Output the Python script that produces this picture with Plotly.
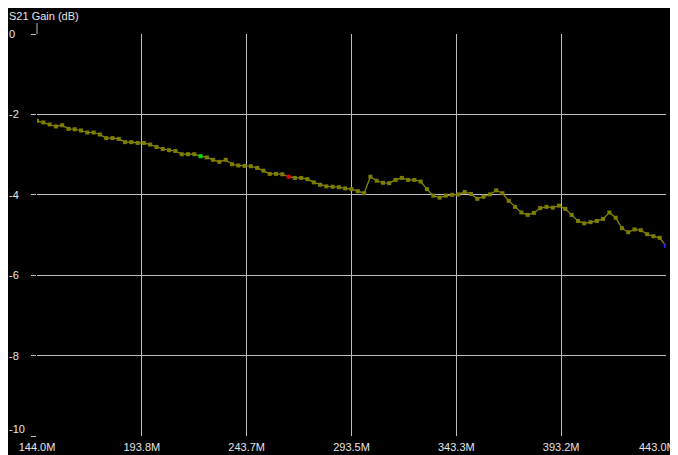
import numpy as np
import plotly.graph_objects as go

# Sweep definition (MHz)
start_mhz = 144.0
stop_mhz = 443.0
n_points = 101
freq_mhz = np.linspace(start_mhz, stop_mhz, n_points)

# S21 gain values (dB)
s21_db = [
    -2.16, -2.20, -2.25, -2.30, -2.27, -2.36, -2.37, -2.40, -2.45, -2.45,
    -2.50, -2.59, -2.59, -2.61, -2.69, -2.69, -2.71, -2.71, -2.75, -2.81,
    -2.86, -2.89, -2.91, -2.99, -2.99, -2.99, -3.04, -3.07, -3.13, -3.18,
    -3.13, -3.24, -3.27, -3.28, -3.29, -3.33, -3.40, -3.48, -3.48, -3.49,
    -3.55, -3.58, -3.58, -3.61, -3.69, -3.75, -3.79, -3.80, -3.81, -3.84,
    -3.86, -3.91, -3.96, -3.55, -3.65, -3.70, -3.71, -3.63, -3.58, -3.63,
    -3.63, -3.67, -3.86, -4.02, -4.07, -4.02, -4.00, -3.99, -3.93, -3.98,
    -4.10, -4.05, -3.99, -3.89, -3.96, -4.15, -4.30, -4.44, -4.50, -4.45,
    -4.33, -4.30, -4.32, -4.27, -4.35, -4.50, -4.65, -4.71, -4.68, -4.65,
    -4.60, -4.44, -4.57, -4.83, -4.93, -4.86, -4.88, -4.98, -5.03, -5.07,
    -5.27,
]

# Highlighted marker indices
green_idx = 26
red_idx = 40
blue_idx = 100

# Tick definitions
x_tickvals = list(np.linspace(start_mhz, stop_mhz, 7))
x_ticktext = ["144.0M", "193.8M", "243.7M", "293.5M", "343.3M", "393.2M", "443.0M"]
y_tickvals = [0, -2, -4, -6, -8, -10]
y_ticktext = ["0", "-2", "-4", "-6", "-8", "-10"]

FONT = "Liberation Sans, Arial, sans-serif"
TEXT_COLOR = "#e6e6e6"
GRID = "#bdbdbd"

marker_colors = ["#7d7d00"] * n_points
marker_colors[green_idx] = "#00e000"
marker_colors[red_idx] = "#e00000"
marker_colors[blue_idx] = "#2020ff"

fig = go.Figure()
fig.add_trace(go.Scatter(
    x=freq_mhz, y=s21_db, mode="lines+markers",
    line=dict(color="#8c8c00", width=1.2),
    marker=dict(symbol="square", size=4, color=marker_colors, line=dict(width=0)),
    showlegend=False, hoverinfo="skip",
))

# page body has an 8px margin, so the figure is sized to fit the window
fig.update_layout(
    width=670, height=447,
    margin=dict(l=29, r=12, t=26, b=19, autoexpand=False),
    paper_bgcolor="black", plot_bgcolor="black",
    font=dict(family=FONT, size=11, color=TEXT_COLOR),
    showlegend=False,
)
# last x label is drawn separately, right-aligned to the edge so it is not cut
axis_ticktext = x_ticktext[:-1] + [""]
fig.update_xaxes(
    range=[start_mhz, stop_mhz], tickvals=x_tickvals, ticktext=axis_ticktext,
    showgrid=True, gridcolor=GRID, gridwidth=1, zeroline=False,
    showline=False, ticks="", tickfont=dict(family=FONT, size=11, color=TEXT_COLOR),
    ticklabelstandoff=3, automargin=False, ticklabeloverflow="allow",
)
fig.update_yaxes(
    range=[-10, 0], tickvals=y_tickvals, showticklabels=False,
    showgrid=True, gridcolor=GRID, gridwidth=1, zeroline=False,
    showline=False, ticks="outside", ticklen=5, tickcolor=GRID, tickwidth=1,
    automargin=False,
)

fig.add_annotation(
    x=1, xref="paper", y=0, yref="paper", text=x_ticktext[-1], showarrow=False,
    xanchor="right", yanchor="middle", xshift=12, yshift=-11,
    font=dict(family=FONT, size=11, color=TEXT_COLOR),
)

# y tick labels, left aligned
for v, t in zip(y_tickvals, y_ticktext):
    fig.add_annotation(
        x=0, xref="paper", y=v, yref="y", text=t, showarrow=False,
        xanchor="left", yanchor="middle", xshift=-30,
        yshift=7 if v == -10 else 0,
        font=dict(family=FONT, size=11, color=TEXT_COLOR),
    )

# left axis extension above the plot
fig.add_shape(type="line", xref="paper", yref="paper", x0=0, x1=0, y0=1, y1=1.027,
              line=dict(color=GRID, width=1))

# chart title
fig.add_annotation(
    x=0, xref="paper", y=1, yref="paper", text="S21 Gain (dB)", showarrow=False,
    xanchor="left", yanchor="bottom", xshift=-30, yshift=10,
    font=dict(family=FONT, size=11, color=TEXT_COLOR),
)

fig.write_html("out.html")
